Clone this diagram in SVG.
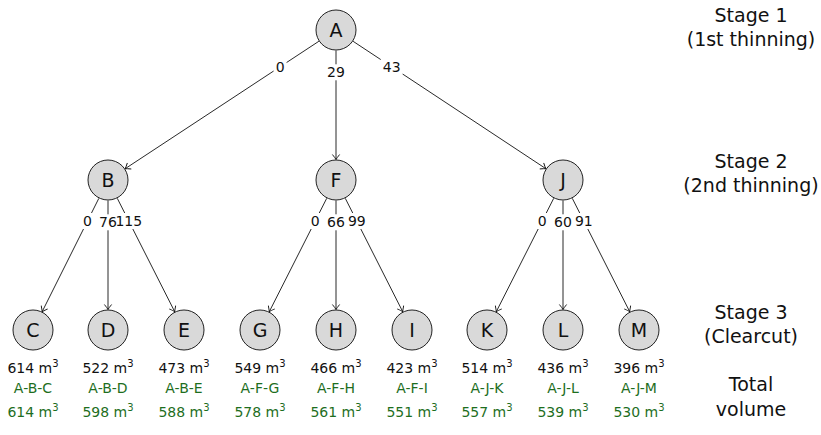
<svg xmlns="http://www.w3.org/2000/svg" width="821" height="435" viewBox="0 0 821 435">
<defs>
<style>
text{font-family:"DejaVu Sans","Liberation Sans",sans-serif;fill:#111}
.node circle{fill:#d9d9d9;stroke:#222;stroke-width:1}
.node text{font-size:19px;text-anchor:middle}
.edges line{stroke:#111;stroke-width:0.9;marker-end:url(#arr)}
.lbl rect{fill:#fff}
.lbl text{font-size:14px;text-anchor:middle}
.vol{font-size:14px;text-anchor:middle}
.tot{font-size:14px;text-anchor:middle;fill:#1e6e1e}
.stage{font-size:19px;text-anchor:middle}
.sup{font-size:10px}
</style>
<marker id="arr" markerWidth="10" markerHeight="10" viewBox="-6 -5 7 10" refX="0" refY="0" orient="auto" markerUnits="userSpaceOnUse">
<path d="M-5,-3.6 Q-1.5,-0.8 0,0 Q-1.5,0.8 -5,3.6" fill="none" stroke="#111" stroke-width="0.9"/>
</marker>
</defs>
<rect width="821" height="435" fill="#fff"/>
<g id="connectors" class="edges">
<line x1="318.87" y1="41.27" x2="125.13" y2="168.73"/>
<line x1="336" y1="50.5" x2="336" y2="159.5"/>
<line x1="353.10" y1="41.30" x2="545.90" y2="168.70"/>
<line x1="98.83" y1="198.34" x2="42.17" y2="311.66"/>
<line x1="108" y1="200.5" x2="108" y2="309.5"/>
<line x1="117.27" y1="198.29" x2="174.73" y2="311.71"/>
<line x1="326.73" y1="198.29" x2="269.27" y2="311.71"/>
<line x1="336" y1="200.5" x2="336" y2="309.5"/>
<line x1="345.27" y1="198.29" x2="402.73" y2="311.71"/>
<line x1="553.73" y1="198.29" x2="496.27" y2="311.71"/>
<line x1="563" y1="200.5" x2="563" y2="309.5"/>
<line x1="572.27" y1="198.29" x2="629.73" y2="311.71"/>
</g>
<g id="edge-labels" class="lbl">
<rect x="273.6" y="58.8" width="13" height="16"/>
<rect x="325" y="64.3" width="22" height="16"/>
<rect x="380.7" y="58.8" width="22" height="16"/>
<rect x="81" y="213" width="13" height="16"/>
<rect x="97" y="214.3" width="22" height="16"/>
<rect x="113.3" y="213" width="31" height="16"/>
<rect x="308.7" y="213" width="13" height="16"/>
<rect x="325" y="214.3" width="22" height="16"/>
<rect x="345.8" y="213" width="22" height="16"/>
<rect x="535.7" y="213" width="13" height="16"/>
<rect x="552" y="214.3" width="22" height="16"/>
<rect x="572.8" y="213" width="22" height="16"/>
<text x="280.1" y="71.9">0</text>
<text x="336" y="77.4">29</text>
<text x="391.7" y="71.9">43</text>
<text x="87.5" y="226.1">0</text>
<text x="108" y="227.4">76</text>
<text x="128.8" y="226.1">115</text>
<text x="315.2" y="226.1">0</text>
<text x="336" y="227.4">66</text>
<text x="356.8" y="226.1">99</text>
<text x="542.2" y="226.1">0</text>
<text x="563" y="227.4">60</text>
<text x="583.8" y="226.1">91</text>
</g>
<g id="A" class="node"><circle cx="336" cy="30" r="20"/><text x="336" y="36.8">A</text></g>
<g id="B" class="node"><circle cx="108" cy="180" r="20"/><text x="108" y="186.8">B</text></g>
<g id="F" class="node"><circle cx="336" cy="180" r="20"/><text x="336" y="186.8">F</text></g>
<g id="J" class="node"><circle cx="563" cy="180" r="20"/><text x="563" y="186.8">J</text></g>
<g id="C" class="node"><circle cx="33" cy="330" r="20"/><text x="33" y="336.8">C</text></g>
<g id="D" class="node"><circle cx="108" cy="330" r="20"/><text x="108" y="336.8">D</text></g>
<g id="E" class="node"><circle cx="184" cy="330" r="20"/><text x="184" y="336.8">E</text></g>
<g id="G" class="node"><circle cx="260" cy="330" r="20"/><text x="260" y="336.8">G</text></g>
<g id="H" class="node"><circle cx="336" cy="330" r="20"/><text x="336" y="336.8">H</text></g>
<g id="I" class="node"><circle cx="412" cy="330" r="20"/><text x="412" y="336.8">I</text></g>
<g id="K" class="node"><circle cx="487" cy="330" r="20"/><text x="487" y="336.8">K</text></g>
<g id="L" class="node"><circle cx="563" cy="330" r="20"/><text x="563" y="336.8">L</text></g>
<g id="M" class="node"><circle cx="639" cy="330" r="20"/><text x="639" y="336.8">M</text></g>
<g id="volumes">
<text class="vol" x="33" y="373">614 m<tspan class="sup" dy="-6">3</tspan></text>
<text class="vol" x="108" y="373">522 m<tspan class="sup" dy="-6">3</tspan></text>
<text class="vol" x="184" y="373">473 m<tspan class="sup" dy="-6">3</tspan></text>
<text class="vol" x="260" y="373">549 m<tspan class="sup" dy="-6">3</tspan></text>
<text class="vol" x="336" y="373">466 m<tspan class="sup" dy="-6">3</tspan></text>
<text class="vol" x="412" y="373">423 m<tspan class="sup" dy="-6">3</tspan></text>
<text class="vol" x="487" y="373">514 m<tspan class="sup" dy="-6">3</tspan></text>
<text class="vol" x="563" y="373">436 m<tspan class="sup" dy="-6">3</tspan></text>
<text class="vol" x="639" y="373">396 m<tspan class="sup" dy="-6">3</tspan></text>
</g>
<g id="totals">
<text class="tot" x="33" y="393">A-B-C</text><text class="tot" x="33" y="417">614 m<tspan class="sup" dy="-6">3</tspan></text>
<text class="tot" x="108" y="393">A-B-D</text><text class="tot" x="108" y="417">598 m<tspan class="sup" dy="-6">3</tspan></text>
<text class="tot" x="184" y="393">A-B-E</text><text class="tot" x="184" y="417">588 m<tspan class="sup" dy="-6">3</tspan></text>
<text class="tot" x="260" y="393">A-F-G</text><text class="tot" x="260" y="417">578 m<tspan class="sup" dy="-6">3</tspan></text>
<text class="tot" x="336" y="393">A-F-H</text><text class="tot" x="336" y="417">561 m<tspan class="sup" dy="-6">3</tspan></text>
<text class="tot" x="412" y="393">A-F-I</text><text class="tot" x="412" y="417">551 m<tspan class="sup" dy="-6">3</tspan></text>
<text class="tot" x="487" y="393">A-J-K</text><text class="tot" x="487" y="417">557 m<tspan class="sup" dy="-6">3</tspan></text>
<text class="tot" x="563" y="393">A-J-L</text><text class="tot" x="563" y="417">539 m<tspan class="sup" dy="-6">3</tspan></text>
<text class="tot" x="639" y="393">A-J-M</text><text class="tot" x="639" y="417">530 m<tspan class="sup" dy="-6">3</tspan></text>
</g>
<g id="stages">
<text class="stage" x="751" y="22">Stage 1</text><text class="stage" x="751" y="46">(1st thinning)</text>
<text class="stage" x="751" y="168">Stage 2</text><text class="stage" x="751" y="192">(2nd thinning)</text>
<text class="stage" x="751" y="319">Stage 3</text><text class="stage" x="751" y="343">(Clearcut)</text>
<text class="stage" x="751" y="391">Total</text><text class="stage" x="751" y="416">volume</text>
</g>
</svg>
